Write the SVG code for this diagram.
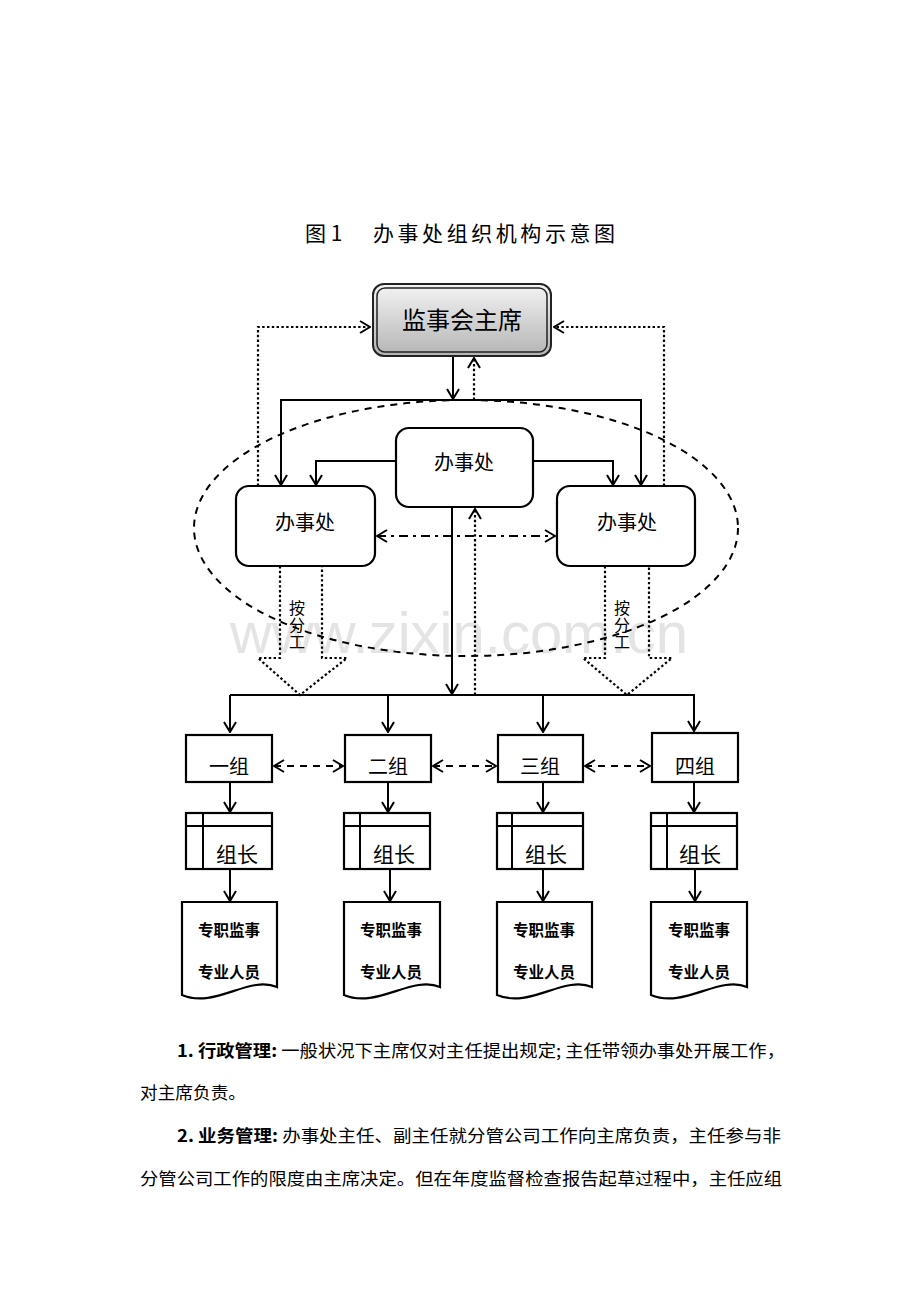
<svg xmlns="http://www.w3.org/2000/svg" width="920" height="1302" viewBox="0 0 920 1302">
<style>
.cjk{font-family:"Noto Sans CJK SC","Noto Sans",sans-serif;fill:#000}
.box{fill:#fff;stroke:#000;stroke-width:2.2}
.ln{fill:none;stroke:#000;stroke-width:2}
.dot{fill:none;stroke:#000;stroke-width:2.2;stroke-dasharray:2.4,2.4}
.dash{fill:none;stroke:#000;stroke-width:2;stroke-dasharray:7,6}
.dd{fill:none;stroke:#000;stroke-width:2;stroke-dasharray:9,5,3,5}
.par{font-family:"Noto Sans CJK SC",sans-serif;font-size:17px;fill:#000}
.vt{font-family:"Noto Sans CJK SC",sans-serif;font-size:16px;fill:#000;writing-mode:vertical-rl;letter-spacing:1px}
</style>
<defs>
<marker id="ah" viewBox="0 0 12 14" refX="11" refY="7" markerWidth="12" markerHeight="14" markerUnits="userSpaceOnUse" orient="auto-start-reverse">
<path d="M1,1 L11,7 L1,13" fill="none" stroke="#000" stroke-width="2"/>
</marker>
<linearGradient id="g" x1="0" y1="0" x2="0" y2="1">
<stop offset="0" stop-color="#f4f4f4"/>
<stop offset="1" stop-color="#b4b4b4"/>
</linearGradient>
</defs>
<rect width="920" height="1302" fill="#fff"/>
<text x="230" y="653" font-family="Liberation Sans,Arial,sans-serif" font-size="57" fill="#e4e4e4" textLength="458" lengthAdjust="spacingAndGlyphs">www.zixin.com.cn</text>

<g id="title">
<text class="cjk" x="305" y="241" font-size="21">图 1</text>
<text class="cjk" x="373" y="241" font-size="21" textLength="242">办事处组织机构示意图</text>
</g>

<g id="scope">
<ellipse cx="466" cy="528" rx="272" ry="128" class="dash" stroke-dasharray="10,7"/>
</g>

<g id="connectors">
<path class="ln" d="M453,356 V399" marker-end="url(#ah)"/>
<path class="dot" d="M474,400 V358" marker-end="url(#ah)"/>
<path class="dot" d="M258,486 V327 H370" marker-end="url(#ah)"/>
<path class="dot" d="M664,486 V327 H554" marker-end="url(#ah)"/>
<path class="ln" d="M453,400 H281 V485" marker-end="url(#ah)"/>
<path class="ln" d="M453,400 H641 V485" marker-end="url(#ah)"/>
<path class="ln" d="M396,461 H316 V485" marker-end="url(#ah)"/>
<path class="ln" d="M533,461 H613 V485" marker-end="url(#ah)"/>
<path class="dd" d="M377,536 H555" marker-start="url(#ah)" marker-end="url(#ah)"/>
<path class="ln" d="M452,507 V694" marker-end="url(#ah)"/>
<path class="dot" d="M475,695 V509" marker-end="url(#ah)"/>
<path class="dot" d="M280,566 V658 H258 L300,695 L347,658 H322 V566"/>
<path class="dot" d="M605,566 V658 H583 L627,695 L672,658 H649 V566"/>
<path class="ln" d="M230,695 H695"/>
<path class="ln" d="M230,695 V732" marker-end="url(#ah)"/>
<path class="ln" d="M388,695 V732" marker-end="url(#ah)"/>
<path class="ln" d="M543,695 V732" marker-end="url(#ah)"/>
<path class="ln" d="M694,695 V731" marker-end="url(#ah)"/>
<path class="dash" d="M274,766 H343" marker-start="url(#ah)" marker-end="url(#ah)"/>
<path class="dash" d="M433,766 H496" marker-start="url(#ah)" marker-end="url(#ah)"/>
<path class="dash" d="M585,766 H650" marker-start="url(#ah)" marker-end="url(#ah)"/>
<path class="ln" d="M230,782 V812" marker-end="url(#ah)"/>
<path class="ln" d="M388,782 V812" marker-end="url(#ah)"/>
<path class="ln" d="M543,782 V812" marker-end="url(#ah)"/>
<path class="ln" d="M694,782 V812" marker-end="url(#ah)"/>
<path class="ln" d="M230,869 V901" marker-end="url(#ah)"/>
<path class="ln" d="M390,869 V901" marker-end="url(#ah)"/>
<path class="ln" d="M543,869 V901" marker-end="url(#ah)"/>
<path class="ln" d="M695,869 V901" marker-end="url(#ah)"/>
</g>

<g id="chair">
<rect x="373" y="284" width="178" height="72" rx="11" fill="url(#g)" stroke="#222" stroke-width="2"/>
<rect x="377" y="288" width="170" height="64" rx="8" fill="none" stroke="#222" stroke-width="1.5"/>
<text class="cjk" x="462" y="329" font-size="24" text-anchor="middle">监事会主席</text>
</g>

<g id="office-center">
<rect class="box" x="396" y="428" width="137" height="79" rx="13"/>
<text class="cjk" x="464" y="470" font-size="20" text-anchor="middle">办事处</text>
</g>
<g id="office-left">
<rect class="box" x="236" y="486" width="139" height="80" rx="13"/>
<text class="cjk" x="305" y="530" font-size="20" text-anchor="middle">办事处</text>
</g>
<g id="office-right">
<rect class="box" x="557" y="486" width="138" height="80" rx="13"/>
<text class="cjk" x="627" y="530" font-size="20" text-anchor="middle">办事处</text>
</g>

<g id="label-left">
<text class="vt" x="297" y="600">按分工</text>
</g>
<g id="label-right">
<text class="vt" x="622" y="600">按分工</text>
</g>

<g id="group1">
<rect class="box" x="186" y="735" width="86" height="47"/>
<text class="cjk" x="229" y="774" font-size="20" text-anchor="middle">一组</text>
</g>
<g id="group2">
<rect class="box" x="345" y="735" width="86" height="47"/>
<text class="cjk" x="388" y="774" font-size="20" text-anchor="middle">二组</text>
</g>
<g id="group3">
<rect class="box" x="498" y="735" width="85" height="47"/>
<text class="cjk" x="540" y="774" font-size="20" text-anchor="middle">三组</text>
</g>
<g id="group4">
<rect class="box" x="652" y="733" width="86" height="49"/>
<text class="cjk" x="695" y="774" font-size="20" text-anchor="middle">四组</text>
</g>

<g id="leader1">
<rect class="box" x="186" y="813" width="86" height="56"/>
<path class="ln" d="M186,826 H272 M203,813 V869"/>
<text class="cjk" x="237" y="862" font-size="21" text-anchor="middle">组长</text>
</g>
<g id="leader2">
<rect class="box" x="344" y="813" width="86" height="56"/>
<path class="ln" d="M344,826 H430 M360,813 V869"/>
<text class="cjk" x="394" y="862" font-size="21" text-anchor="middle">组长</text>
</g>
<g id="leader3">
<rect class="box" x="497" y="813" width="86" height="56"/>
<path class="ln" d="M497,826 H583 M512,813 V869"/>
<text class="cjk" x="546" y="862" font-size="21" text-anchor="middle">组长</text>
</g>
<g id="leader4">
<rect class="box" x="651" y="813" width="86" height="56"/>
<path class="ln" d="M651,826 H737 M667,813 V869"/>
<text class="cjk" x="700" y="862" font-size="21" text-anchor="middle">组长</text>
</g>

<g id="staff1">
<path class="box" d="M182,902 H277 V987 C249,975 215,1009 182,995 Z"/>
<text class="cjk" x="229" y="936" font-size="15.5" font-weight="bold" text-anchor="middle">专职监事</text>
<text class="cjk" x="229" y="978" font-size="15.5" font-weight="bold" text-anchor="middle">专业人员</text>
</g>
<g id="staff2">
<path class="box" d="M344,902 H440 V987 C412,975 377,1009 344,995 Z"/>
<text class="cjk" x="391" y="936" font-size="15.5" font-weight="bold" text-anchor="middle">专职监事</text>
<text class="cjk" x="391" y="978" font-size="15.5" font-weight="bold" text-anchor="middle">专业人员</text>
</g>
<g id="staff3">
<path class="box" d="M497,902 H592 V987 C564,975 530,1009 497,995 Z"/>
<text class="cjk" x="544" y="936" font-size="15.5" font-weight="bold" text-anchor="middle">专职监事</text>
<text class="cjk" x="544" y="978" font-size="15.5" font-weight="bold" text-anchor="middle">专业人员</text>
</g>
<g id="staff4">
<path class="box" d="M651,902 H747 V987 C719,975 684,1009 651,995 Z"/>
<text class="cjk" x="699" y="936" font-size="15.5" font-weight="bold" text-anchor="middle">专职监事</text>
<text class="cjk" x="699" y="978" font-size="15.5" font-weight="bold" text-anchor="middle">专业人员</text>
</g>

<g id="notes">
<text class="par" x="177" y="1057" textLength="608" lengthAdjust="spacingAndGlyphs"><tspan font-weight="bold">1. 行政管理:</tspan> 一般状况下主席仅对主任提出规定; 主任带领办事处开展工作，</text>
<text class="par" x="140" y="1099" textLength="106" lengthAdjust="spacingAndGlyphs">对主席负责。</text>
<text class="par" x="177" y="1142" textLength="604" lengthAdjust="spacingAndGlyphs"><tspan font-weight="bold">2. 业务管理:</tspan> 办事处主任、副主任就分管公司工作向主席负责，主任参与非</text>
<text class="par" x="140" y="1185" textLength="642" lengthAdjust="spacingAndGlyphs">分管公司工作的限度由主席决定。但在年度监督检查报告起草过程中，主任应组</text>
</g>
</svg>
